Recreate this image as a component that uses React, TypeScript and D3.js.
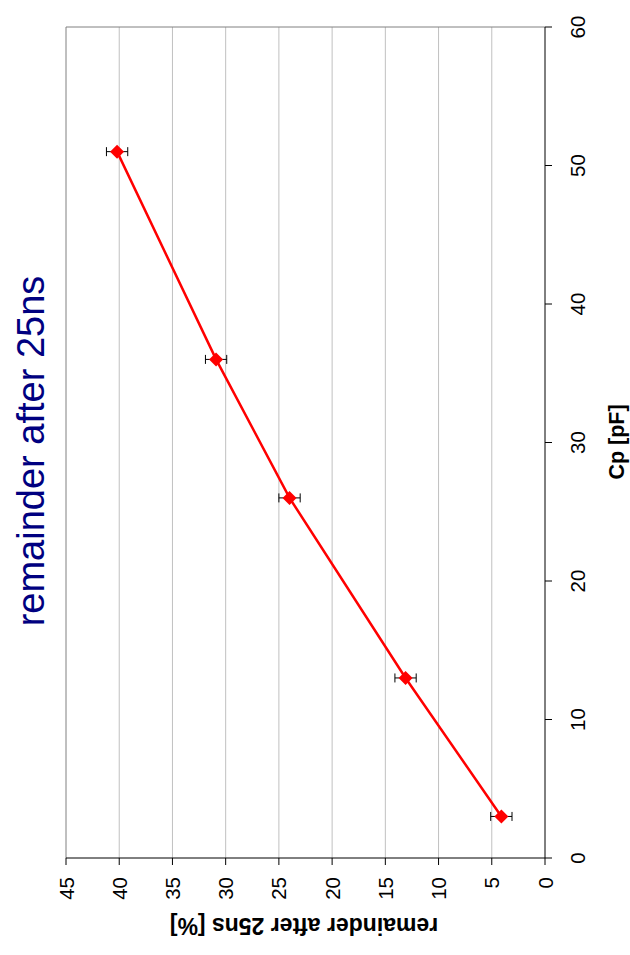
import React from 'react';
import * as d3 from 'd3';

const cpValues = [3, 13, 26, 36, 51];
const remainderValues = [4.1, 13.1, 24.0, 30.9, 40.2];
const errorValues = [1, 1, 1, 1, 1];
const cpTicks = [0, 10, 20, 30, 40, 50, 60];
const remainderTicks = [0, 5, 10, 15, 20, 25, 30, 35, 40, 45];
const titleText = 'remainder after 25ns';
const cpLabel = 'Cp [pF]';
const remainderLabel = 'remainder after 25ns [%]';

const FONT = '"Liberation Sans", Arial, sans-serif';

export default function App() {
  // drawn in the un-rotated frame (955 wide, 630 tall), then rotated -90deg
  const x = d3.scaleLinear().domain([0, 60]).range([97, 928]);
  const y = d3.scaleLinear().domain([0, 45]).range([545, 66]);
  const pts = cpValues.map((c, i) => ({ c, r: remainderValues[i], e: errorValues[i] }));
  const line = d3
    .line<{ c: number; r: number }>()
    .x((d) => x(d.c))
    .y((d) => y(d.r));
  const [x0, x1] = x.range();
  const [y0, y1] = y.range();
  const diamond = 'M0,-7L7,0L0,7L-7,0Z';

  return (
    <div style={{ position: 'absolute', left: 0, top: 0 }}>
      <svg width={630} height={955} style={{ display: 'block', background: '#fff' }}>
        <g transform="translate(0,955) rotate(-90)" fontFamily={FONT}>
          {/* gridlines */}
          {remainderTicks
            .filter((t) => t > 0 && t < 45)
            .map((t) => (
              <line key={'g' + t} x1={x0} x2={x1} y1={y(t)} y2={y(t)} stroke="#c0c0c0" strokeWidth={1} />
            ))}
          {/* plot border */}
          <line x1={x0} x2={x1} y1={y1} y2={y1} stroke="#808080" strokeWidth={1} />
          <line x1={x1} x2={x1} y1={y1} y2={y0} stroke="#808080" strokeWidth={1} />
          {/* axes */}
          <line x1={x0} x2={x0} y1={y1} y2={y0} stroke="#000" strokeWidth={1} />
          <line x1={x0} x2={x1} y1={y0} y2={y0} stroke="#000" strokeWidth={1} />
          {remainderTicks.map((t) => (
            <g key={'yt' + t}>
              <line x1={x0 - 7} x2={x0} y1={y(t)} y2={y(t)} stroke="#000" />
              <text x={x0 - 19} y={y(t)} textAnchor="end" dominantBaseline="central" fontSize={20.5} fill="#000">
                {t}
              </text>
            </g>
          ))}
          {cpTicks.map((t) => (
            <g key={'xt' + t}>
              <line x1={x(t)} x2={x(t)} y1={y0} y2={y0 + 7} stroke="#000" />
              <text x={x(t)} y={y0 + 40} textAnchor="middle" fontSize={20.5} fill="#000">
                {t}
              </text>
            </g>
          ))}
          {/* axis titles */}
          <text x={513} y={624} textAnchor="middle" fontSize={21.5} fontWeight="bold" fill="#000">
            {cpLabel}
          </text>
          <text
            transform={`translate(37,304) rotate(-90)`}
            textAnchor="middle"
            fontSize={23}
            fontWeight="bold"
            fill="#000"
          >
            {remainderLabel}
          </text>
          {/* chart title */}
          <text x={504} y={44} textAnchor="middle" fontSize={38} fill="#000080">
            {titleText}
          </text>
          {/* series line */}
          <path d={line(pts) || ''} fill="none" stroke="#ff0000" strokeWidth={2.5} />
          {/* error bars */}
          {pts.map((p, i) => (
            <g key={'e' + i} stroke="#000" strokeWidth={1}>
              <line x1={x(p.c)} x2={x(p.c)} y1={y(p.r - p.e)} y2={y(p.r + p.e)} />
              <line x1={x(p.c) - 4.5} x2={x(p.c) + 4.5} y1={y(p.r - p.e)} y2={y(p.r - p.e)} />
              <line x1={x(p.c) - 4.5} x2={x(p.c) + 4.5} y1={y(p.r + p.e)} y2={y(p.r + p.e)} />
            </g>
          ))}
          {/* markers */}
          {pts.map((p, i) => (
            <path key={'m' + i} d={diamond} transform={`translate(${x(p.c)},${y(p.r)})`} fill="#ff0000" />
          ))}
        </g>
      </svg>
    </div>
  );
}
